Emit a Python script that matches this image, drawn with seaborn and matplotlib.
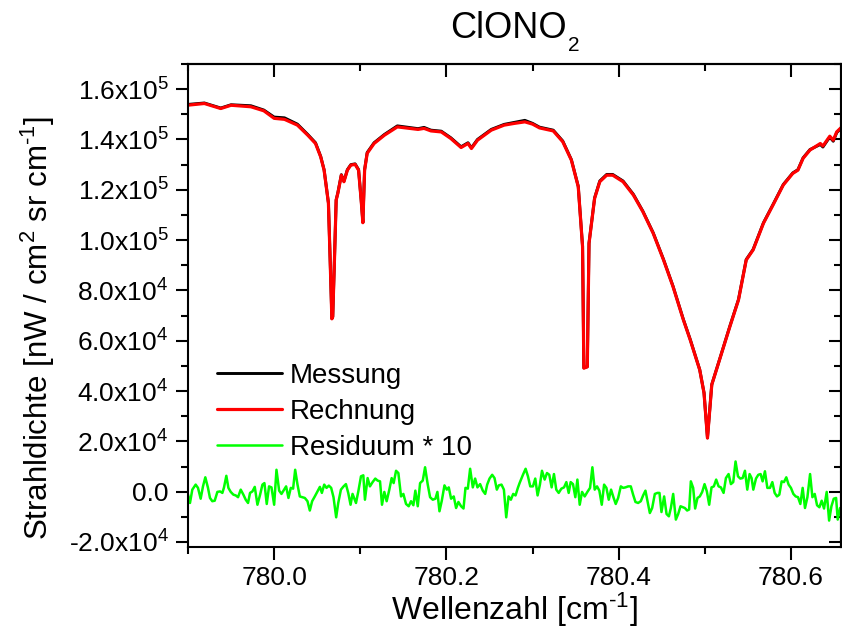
import numpy as np
import pandas as pd
import matplotlib
matplotlib.use("Agg")
import matplotlib.pyplot as plt
import seaborn as sns
from matplotlib.ticker import FixedLocator, MultipleLocator, FuncFormatter

# ---------------- data ----------------
wellenzahl = [779.899, 779.919, 779.938, 779.950, 779.973, 779.988, 780.000, 780.012, 780.027, 780.039,
              780.048, 780.054, 780.058, 780.063, 780.065, 780.067, 780.068, 780.070, 780.072, 780.074,
              780.078, 780.081, 780.085, 780.089, 780.094, 780.098, 780.101, 780.103, 780.105, 780.108,
              780.116, 780.128, 780.143, 780.167, 780.174, 780.182, 780.194, 780.205, 780.217, 780.225,
              780.229, 780.236, 780.252, 780.267, 780.279, 780.291, 780.300, 780.308, 780.324, 780.335,
              780.345, 780.353, 780.358, 780.3595, 780.3635, 780.3655, 780.372, 780.378, 780.386, 780.393,
              780.405, 780.417, 780.428, 780.440, 780.452, 780.463, 780.475, 780.483, 780.494, 780.499,
              780.503, 780.508, 780.517, 780.529, 780.539, 780.548, 780.556, 780.568, 780.579, 780.591,
              780.602, 780.608, 780.614, 780.622, 780.634, 780.637, 780.645, 780.649, 780.653, 780.659]

rechnung = [153600, 154300, 152300, 153600, 153000, 151400, 148400, 148000, 145700, 141700,
            138400, 133100, 127800, 114700, 92100, 68700, 69500, 92100, 115900, 118700,
            125800, 123200, 127800, 129800, 130100, 127800, 115900, 106900, 127800, 134500,
            138400, 141700, 145000, 144000, 144400, 143400, 143000, 140400, 136800, 138400,
            136400, 139700, 143700, 145700, 146400, 147000, 146100, 144600, 143400, 139100,
            131800, 121200, 97400, 49100, 49600, 98700, 116600, 123200, 125800, 125800,
            123200, 117900, 111300, 102700, 92100, 81500, 68300, 60300, 48400, 39200,
            21300, 42500, 52400, 65600, 76200, 92100, 96100, 106700, 113900, 121900,
            126500, 127800, 132500, 135800, 138400, 137400, 141300, 139700, 143000, 145000]

messung = [153900, 154500, 152500, 153800, 153400, 151700, 148900, 148600, 146100, 142000,
           138700, 133300, 127900, 114800, 92200, 68800, 69600, 92200, 116000, 118900,
           126000, 123400, 128000, 130000, 130300, 128000, 116000, 107000, 128000, 134800,
           138700, 142000, 145400, 144300, 144800, 143700, 143300, 140700, 137100, 138700,
           136700, 140000, 144000, 146000, 146800, 147600, 146400, 144900, 143700, 139400,
           132000, 121400, 97500, 49200, 49700, 98800, 116800, 123500, 126100, 126100,
           123500, 118200, 111500, 102900, 92300, 81700, 68500, 60500, 48500, 39300,
           21400, 42600, 52500, 65800, 76400, 92300, 96300, 106900, 114100, 122100,
           126700, 128000, 132700, 136000, 138000, 137000, 141000, 139300, 142700, 144800]

res_wellenzahl = [
    779.9000, 779.9023, 779.9050, 779.9089, 779.9116, 779.9147, 779.9174, 779.9201, 779.9232, 779.9255,
    779.9282, 779.9310, 779.9341, 779.9372, 779.9399, 779.9418, 779.9445, 779.9469, 779.9496, 779.9527,
    779.9554, 779.9581, 779.9612, 779.9643, 779.9670, 779.9697, 779.9720, 779.9748, 779.9775, 779.9806,
    779.9837, 779.9864, 779.9887, 779.9914, 779.9941, 779.9969, 780.0000, 780.0027, 780.0058, 780.0085,
    780.0116, 780.0139, 780.0166, 780.0193, 780.0220, 780.0244, 780.0271, 780.0298, 780.0329, 780.0356,
    780.0387, 780.0414, 780.0441, 780.0472, 780.0503, 780.0531, 780.0554, 780.0581, 780.0608, 780.0635,
    780.0662, 780.0689, 780.0720, 780.0744, 780.0775, 780.0806, 780.0833, 780.0860, 780.0887, 780.0910,
    780.0950, 780.0977, 780.1008, 780.1035, 780.1054, 780.1085, 780.1112, 780.1143, 780.1174, 780.1201,
    780.1229, 780.1252, 780.1279, 780.1306, 780.1337, 780.1364, 780.1387, 780.1415, 780.1442, 780.1473,
    780.1500, 780.1531, 780.1562, 780.1589, 780.1616, 780.1639, 780.1667, 780.1694, 780.1725, 780.1752,
    780.1783, 780.1810, 780.1841, 780.1872, 780.1895, 780.1919, 780.1946, 780.1977, 780.2004, 780.2027,
    780.2054, 780.2085, 780.2112, 780.2139, 780.2170, 780.2198, 780.2221, 780.2248, 780.2275, 780.2306,
    780.2333, 780.2360, 780.2391, 780.2422, 780.2450, 780.2473, 780.2500, 780.2531, 780.2558, 780.2585,
    780.2608, 780.2639, 780.2667, 780.2694, 780.2721, 780.2748, 780.2775, 780.2802, 780.2829,
    780.2849, 780.2888, 780.2919, 780.2946, 780.2973, 780.3004, 780.3031, 780.3058, 780.3085, 780.3109,
    780.3140, 780.3167, 780.3194, 780.3221, 780.3248, 780.3275, 780.3303, 780.3334, 780.3365, 780.3392,
    780.3419, 780.3442, 780.3469, 780.3496, 780.3520, 780.3547, 780.3574, 780.3605, 780.3636, 780.3667,
    780.3694, 780.3721, 780.3748, 780.3775, 780.3803, 780.3830, 780.3857, 780.3884, 780.3911, 780.3938,
    780.3965, 780.3993, 780.4024, 780.4051, 780.4078, 780.4109, 780.4140, 780.4167, 780.4194, 780.4225,
    780.4256, 780.4283, 780.4310, 780.4334, 780.4361, 780.4388, 780.4419, 780.4450, 780.4473, 780.4496,
    780.4527, 780.4555, 780.4582, 780.4605, 780.4632, 780.4663, 780.4690, 780.4717, 780.4744,
    780.4767, 780.4794, 780.4817, 780.4837, 780.4864, 780.4887, 780.4914, 780.4941, 780.4969, 780.4996,
    780.5023, 780.5050, 780.5077, 780.5104, 780.5131, 780.5159, 780.5186, 780.5217, 780.5244, 780.5275,
    780.5302, 780.5329, 780.5356, 780.5384, 780.5411, 780.5438, 780.5465, 780.5492, 780.5519, 780.5542,
    780.5562, 780.5593, 780.5620, 780.5647, 780.5670, 780.5697, 780.5725, 780.5756, 780.5783, 780.5810,
    780.5837, 780.5864, 780.5891, 780.5918, 780.5945, 780.5972, 780.5999, 780.6027, 780.6054, 780.6081,
    780.6108, 780.6135, 780.6162, 780.6190, 780.6221, 780.6248, 780.6275, 780.6302, 780.6329, 780.6356,
    780.6383, 780.6414, 780.6442, 780.6469, 780.6496, 780.6523, 780.6542, 780.6569, 780.6593]

residuum_x10 = [
    -1200, -4500, 800, 2800, 1500, -2800, 2100, 5700, 1500, -2500,
    -3800, -3600, -100, 100, -500, 1700, 6300, 1500, -100, -1200,
    -1500, -2200, 800, -1200, -3200, -4500, -500, 100, 1900, -5200,
    -1200, 2800, 3400, -4900, 2100, 1700, -5200, 8700, 400, -900,
    800, 2100, -2500, 1500, 1200, 8700, 2800, -1900, -2200, -2500,
    -3800, -7500, -3800, -1900, 100, 1900, -500, 2800, 1500, 2400,
    1500, -2200, -10200, -4500, 800, 2100, 3000, -500, -5200, -900,
    -4500, 100, 6100, 6500, -3200, 5400, 2100, 3800, 5200, 4400,
    4100, -5200, -100, -3800, 800, 5400, 3400, 8300, 7400, -1900,
    -900, -4900, -5800, -3800, -5400, 400, -5800, 3400, 4400, 9700,
    2800, -2200, -3200, -2800, -100, -7800, -3600, 2500, 800, 1700,
    -2800, -1900, -6500, -4100, -5800, -6700, 1500, 1200, 9100, 1700,
    5200, 1700, 3000, 400, -900, 2800, 5200, 6700, 5400, 800,
    2500, 2800, 800, -10200, -1900, -3200, -900, -1500, 1500,
    3400, 6700, 9100, 6100, 2100, 2100, 5200, -1500, 2800, 8300,
    4800, 7400, 6700, 1700, 7000, 800, -500, 1200, 1700, 3800,
    -500, 3800, 3000, -2200, 4800, -5200, -100, -1900, -100, 1500,
    9700, 800, 2100, 400, -5200, 2800, 1500, -3200, 800, -2200,
    -4900, -2500, 2100, 1500, 1700, 2100, 2100, -1200, -4100, -4500,
    -3800, -1500, 400, -3800, -8500, -6500, -900, -500, -500, -8100,
    -1900, -8900, -9800, -6500, -900, -11100, -8900, -5800, -6200,
    -6500, -7500, -7100, 4100, 1500, -6700, -2500, -1900, -100, 3000,
    100, -5200, 1700, 2100, 4800, 2100, 1700, -500, 5400, 7000,
    3000, 3800, 12000, 6100, 5200, 5400, 8300, 800, 7000, 5400,
    800, 5200, 6700, 7000, 4100, 8100, 1500, 1500, 3800, -500,
    -1900, -1200, 4100, 3800, 5700, 2800, 1500, -900, -1900, -2200,
    -4900, 1500, -6500, -2200, 7000, -2200, -900, -5400, -6200, -3600,
    -6700, -100, -11500, -5800, -2800, -2500, -11100, -6500, -11800]

x_major = [780.0, 780.2, 780.4, 780.6]
x_minor = [779.9, 780.1, 780.3, 780.5]
y_major = [-20000, 0, 20000, 40000, 60000, 80000, 100000, 120000, 140000, 160000]

# ---------------- style ----------------
sns.set_style("ticks")
plt.rcParams["font.family"] = ["Liberation Sans", "DejaVu Sans"]
plt.rcParams["mathtext.fontset"] = "custom"
plt.rcParams["mathtext.rm"] = "Liberation Sans"
plt.rcParams["mathtext.it"] = "Liberation Sans:italic"
plt.rcParams["mathtext.bf"] = "Liberation Sans:bold"
plt.rcParams["mathtext.default"] = "regular"
plt.rcParams["axes.unicode_minus"] = False
for k in ["text.color", "axes.labelcolor", "xtick.color", "ytick.color", "axes.edgecolor"]:
    plt.rcParams[k] = "black"

fig = plt.figure(figsize=(8.42, 6.32), dpi=100)
ax = fig.add_axes([188 / 842, 1 - 547 / 632, 653 / 842, 483 / 632])

spec = pd.DataFrame({"wn": wellenzahl, "mess": messung, "rech": rechnung})
res = pd.DataFrame({"wn": res_wellenzahl, "res": residuum_x10})

sns.lineplot(data=spec, x="wn", y="mess", color="black", lw=2.1, ax=ax,
             sort=False, estimator=None, label="Messung")
sns.lineplot(data=spec, x="wn", y="rech", color="#FF0000", lw=2.3, ax=ax,
             sort=False, estimator=None, label="Rechnung")
sns.lineplot(data=res, x="wn", y="res", color="#00FF00", lw=1.8, ax=ax,
             sort=False, estimator=None, label="Residuum * 10")

ax.set_xlim(779.9, 780.658)
ax.set_ylim(-22000, 170000)

ax.xaxis.set_major_locator(FixedLocator(x_major))
ax.xaxis.set_minor_locator(FixedLocator(x_minor))
ax.yaxis.set_major_locator(FixedLocator(y_major))
ax.yaxis.set_minor_locator(MultipleLocator(10000))
ax.xaxis.set_major_formatter(FuncFormatter(lambda v, p: f"{v:.1f}"))


def yfmt(v, p):
    if abs(v) < 1:
        return "0.0"
    e = int(np.floor(np.log10(abs(v))))
    m = v / 10 ** e
    return f"{m:.1f}x10$^{{{e}}}$"


ax.yaxis.set_major_formatter(FuncFormatter(yfmt))

ax.tick_params(which="major", direction="out", length=9, width=1.5, labelsize=19, pad=5)
ax.tick_params(which="minor", direction="out", length=5, width=1.5)
for s in ax.spines.values():
    s.set_linewidth(1.5)

secx = ax.secondary_xaxis("top")
secx.xaxis.set_major_locator(FixedLocator(x_major))
secx.xaxis.set_minor_locator(FixedLocator(x_minor))
secx.tick_params(which="major", direction="in", length=9, width=1.5, labeltop=False)
secx.tick_params(which="minor", direction="in", length=5, width=1.5)
secx.spines["top"].set_linewidth(1.5)

secy = ax.secondary_yaxis("right")
secy.yaxis.set_major_locator(FixedLocator(y_major))
secy.yaxis.set_minor_locator(MultipleLocator(10000))
secy.tick_params(which="major", direction="in", length=9, width=1.5, labelright=False)
secy.tick_params(which="minor", direction="in", length=5, width=1.5)
secy.spines["right"].set_linewidth(1.5)

ax.set_xlabel("Wellenzahl [cm$^{\u20101}$]", fontsize=23, labelpad=0)
ax.set_ylabel("Strahldichte [nW / cm$^{2}$ sr cm$^{\u20101}$]", fontsize=22.5)
ax.yaxis.set_label_coords(-0.2, 0.453)

# title with a deep subscript, as in the reference
fig.text(450 / 842, 1 - 38 / 632, "ClONO", fontsize=26, ha="left", va="baseline")
fig.text(568 / 842, 1 - 51 / 632, "2", fontsize=15, ha="left", va="baseline")

ax.legend(loc="upper left", bbox_to_anchor=(0.044, 0.381), frameon=False, fontsize=20,
          handlelength=2.35, handletextpad=0.29, labelspacing=0.36, borderpad=0, borderaxespad=0)

fig.savefig("out.png", dpi=100)
